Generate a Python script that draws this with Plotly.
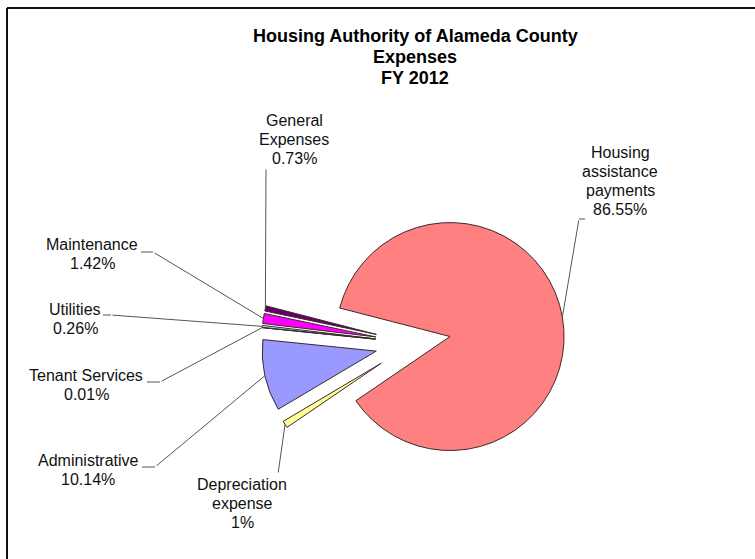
import math
import plotly.graph_objects as go

# ---- data (clockwise order starting at upper edge of the big slice) ----
labels = ["Housing assistance payments", "Depreciation expense", "Administrative",
          "Tenant Services", "Utilities", "Maintenance", "General Expenses"]
label_lines = [["Housing", "assistance", "payments"], ["Depreciation", "expense"], ["Administrative"],
               ["Tenant Services"], ["Utilities"], ["Maintenance"], ["General", "Expenses"]]
values = [86.55, 1, 10.14, 0.01, 0.26, 1.42, 0.73]
pct_labels = ["86.55%", "1%", "10.14%", "0.01%", "0.26%", "1.42%", "0.73%"]
title_lines = ["Housing Authority of Alameda County", "Expenses", "FY 2012"]

# ---- styles ----
colors = ["#FF8080", "#FFFF99", "#9999FF", "#993366", "#CCFFFF", "#FF00FF", "#660066"]
W, H = 755, 559
CX, CY = 413, 343          # pie centre (px)
R = 114                     # pie radius (px)
PULL = 0.33                 # explosion of every slice
ROT = 284.5                 # start angle, clockwise from 12 o'clock
FONT = "Liberation Sans, Arial, sans-serif"
LABEL_SIZE = 16
TITLE_SIZE = 18

half = R * (1 + PULL)
dom_x = [(CX - half) / W, (CX + half) / W]
dom_y = [1 - (CY + half) / H, 1 - (CY - half) / H]

fig = go.Figure(go.Pie(
    labels=labels, values=values, sort=False, direction="clockwise",
    rotation=ROT - 360, pull=[PULL] * len(values),
    marker=dict(colors=colors, line=dict(color="#3a2a2a", width=1)),
    textinfo="none", hoverinfo="label+percent", domain=dict(x=dom_x, y=dom_y),
))

# label layout (px): centre x, y of each text line
text_layout = {
    "Housing assistance payments": (620, [152.5, 171.5, 190.5, 209.5]),
    "Depreciation expense": (242, [484, 503, 522]),
    "Administrative": (88, [460.5, 479.5]),
    "Tenant Services": (86, [375.5, 394.5]),
    "Utilities": (75, [309.5, 328.5]),
    "Maintenance": (92, [244.5, 263.5]),
    "General Expenses": (294, [120.5, 139.5, 158.5]),
}
# leader: stub start, bend point (px)
leader = {
    "Housing assistance payments": ((585, 219), (579, 219)),
    "Depreciation expense": ((278, 474), (278, 474)),
    "Administrative": ((142, 467), (155, 467)),
    "Tenant Services": ((147, 382), (160, 382)),
    "Utilities": ((103, 315), (111, 315)),
    "Maintenance": ((141, 252), (153, 252)),
    "General Expenses": ((266, 168), (266, 168)),
}

LEADER_COLOR = "#555555"
annotations = []
shapes = []
total = sum(values)
cum = 0.0
for lab, lines, v, pct in zip(labels, label_lines, values, pct_labels):
    a0 = ROT + cum / total * 360
    cum += v
    a1 = ROT + cum / total * 360
    am = math.radians((a0 + a1) / 2)
    ux, uy = math.sin(am), -math.cos(am)
    px = CX + (1 + PULL) * R * ux
    py = CY + (1 + PULL) * R * uy
    (s0x, s0y), (bx, by) = leader[lab]
    annotations.append(dict(
        x=px / W, y=1 - py / H, xref="paper", yref="paper", text="",
        showarrow=True, arrowhead=0, arrowwidth=1, arrowcolor=LEADER_COLOR,
        ax=bx - px, ay=by - py, standoff=0, startstandoff=0,
    ))
    if (s0x, s0y) != (bx, by):
        shapes.append(dict(type="line", xref="paper", yref="paper",
                           x0=s0x / W, x1=bx / W, y0=1 - s0y / H, y1=1 - by / H,
                           line=dict(color=LEADER_COLOR, width=1)))
    tx, tys = text_layout[lab]
    for txt, ty in zip(lines + [pct], tys):
        annotations.append(dict(
            x=tx / W, y=1 - ty / H, xref="paper", yref="paper",
            text=txt, showarrow=False, xanchor="center", yanchor="middle",
            font=dict(family=FONT, size=LABEL_SIZE, color="#111111"),
        ))

for txt, ty in zip(title_lines, [36, 57, 78]):
    annotations.append(dict(
        x=415 / W, y=1 - ty / H, xref="paper", yref="paper",
        text=f"<b>{txt}</b>", showarrow=False, xanchor="center", yanchor="middle",
        font=dict(family=FONT, size=TITLE_SIZE, color="#000000"),
    ))

shapes += [
    dict(type="line", xref="paper", yref="paper", x0=7 / W, x1=1, y0=1 - 8 / H, y1=1 - 8 / H,
         line=dict(color="#111111", width=2)),
    dict(type="line", xref="paper", yref="paper", x0=7 / W, x1=7 / W, y0=0, y1=1 - 8 / H,
         line=dict(color="#111111", width=2)),
]

fig.update_layout(
    width=W, height=H, margin=dict(l=0, r=0, t=0, b=0),
    paper_bgcolor="white", plot_bgcolor="white", showlegend=False,
    annotations=annotations, shapes=shapes,
)

fig.write_html("out.html")
